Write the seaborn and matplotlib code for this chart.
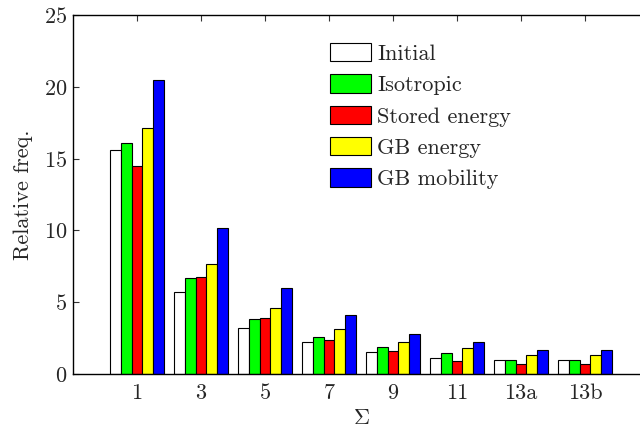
import matplotlib
matplotlib.use("Agg")
import matplotlib.pyplot as plt
import seaborn as sns
import pandas as pd

categories = ['1', '3', '5', '7', '9', '11', '13a', '13b']
series_names = ['Initial', 'Isotropic', 'Stored energy', 'GB energy', 'GB mobility']
initial = [15.6, 5.7, 3.2, 2.2, 1.5, 1.1, 1.0, 1.0]
isotropic = [16.1, 6.7, 3.85, 2.6, 1.85, 1.45, 1.0, 1.0]
stored_energy = [14.5, 6.75, 3.9, 2.35, 1.6, 0.88, 0.67, 0.67]
gb_energy = [17.1, 7.65, 4.6, 3.15, 2.25, 1.78, 1.3, 1.3]
gb_mobility = [20.5, 10.15, 6.0, 4.1, 2.78, 2.22, 1.68, 1.68]
colors = ['#ffffff', '#00ff00', '#ff0000', '#ffff00', '#0000ff']

rows = []
for name, vals in zip(series_names, [initial, isotropic, stored_energy, gb_energy, gb_mobility]):
    for c, v in zip(categories, vals):
        rows.append({'Sigma': c, 'Series': name, 'Value': v})
df = pd.DataFrame(rows)

sns.set_style("white")
plt.rcParams['font.family'] = ['cmr10', 'DejaVu Serif']
plt.rcParams['mathtext.fontset'] = 'cm'
plt.rcParams['axes.unicode_minus'] = False
plt.rcParams['axes.formatter.use_mathtext'] = True

FS = 16

fig = plt.figure(figsize=(6.4, 4.28), dpi=100)
ax = fig.add_axes([73/640, 54/428, (649-73)/640, 359/428])

sns.barplot(data=df, x='Sigma', y='Value', hue='Series', order=categories,
            hue_order=series_names, palette=colors, width=0.845, gap=0,
            edgecolor='black', linewidth=0.8, saturation=1, ax=ax, errorbar=None)

ax.set_xlim(-1, 8)
ax.set_ylim(0, 25)
ax.set_yticks([0, 5, 10, 15, 20, 25])
ax.set_xlabel(r'$\Sigma$', fontsize=FS, labelpad=4)
ax.set_ylabel('Relative freq.', fontsize=FS, labelpad=8)
ax.tick_params(axis='both', direction='in', length=4, width=0.8, labelsize=FS,
               top=True, right=False, left=True, bottom=True, color='#333333')
ax.tick_params(axis='x', pad=7)
ax.tick_params(axis='y', pad=4)
for s in ['left', 'bottom', 'top', 'right']:
    ax.spines[s].set_color('black')
    ax.spines[s].set_linewidth(1.0)

leg = ax.legend(loc='upper left', bbox_to_anchor=(330/640, 1 - 43/428),
                bbox_transform=fig.transFigure, frameon=False, fontsize=FS,
                handlelength=1.85, handleheight=0.9, handletextpad=0.28,
                labelspacing=0.47, borderpad=0, borderaxespad=0)

fig.savefig('out.png', dpi=100)
